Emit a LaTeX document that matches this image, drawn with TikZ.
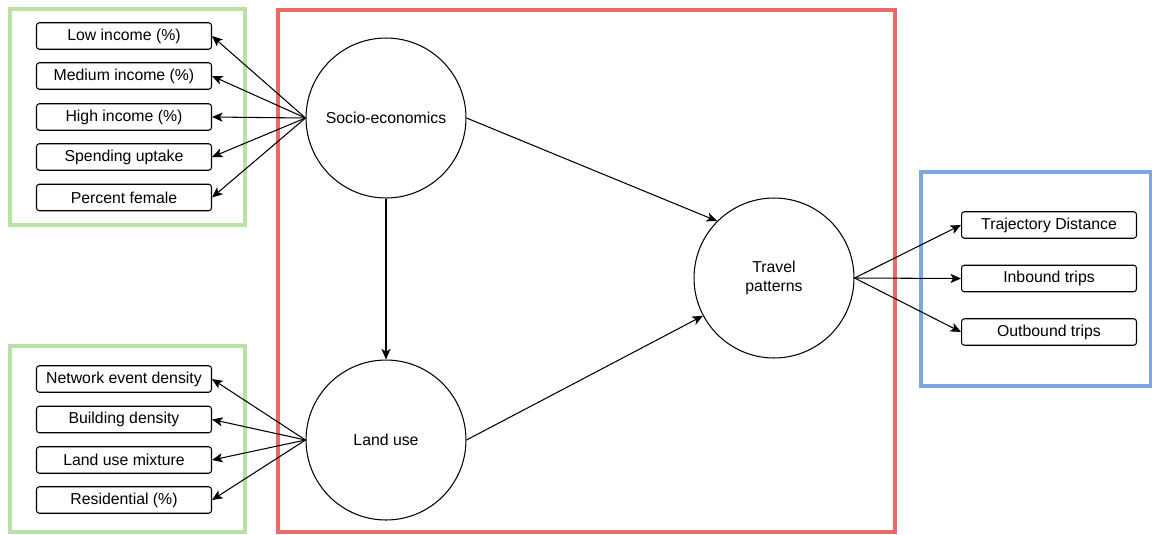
\documentclass[tikz,border=0pt]{standalone}
\usepackage{fontspec}
\setmainfont{Liberation Sans}
\usetikzlibrary{arrows.meta}
\definecolor{grpgreen}{RGB}{185,224,165}
\definecolor{grpred}{RGB}{234,107,102}
\definecolor{grpblue}{RGB}{126,166,224}
\begin{document}
\begin{tikzpicture}[x=0.02cm,y=-0.02cm,
  font=\fontsize{9pt}{10.5pt}\selectfont,
  indicator/.style={draw,line width=0.6pt,rounded corners=1.6pt,minimum width=3.5cm,minimum height=0.53cm,inner sep=0pt},
  construct/.style={draw,circle,line width=0.6pt,minimum size=3.2cm,inner sep=0pt,align=center},
  group/.style={line width=1.8pt},
  link/.style={line width=0.6pt,-{Stealth[length=6pt,width=5.2pt,inset=1.5pt]}}]
\useasboundingbox (0,0) rectangle (1152,534);

% group frames
\draw[group,grpgreen] (10,9) rectangle (245,225);
\draw[group,grpgreen] (10,346) rectangle (245,532);
\draw[group,grpred] (278,10) rectangle (895,532);
\draw[group,grpblue] (921,172) rectangle (1151,386);

% latent constructs
\node[construct] (soc) at (386,118) {Socio-economics};
\node[construct] (land) at (386,440) {Land use};
\node[construct] (travel) at (774,278) {Travel\\patterns};

% socio-economic indicators
\node[indicator] (low) at (124,36) {Low income (\%)};
\node[indicator] (med) at (124,76) {Medium income (\%)};
\node[indicator] (high) at (124,117) {High income (\%)};
\node[indicator] (spend) at (124,157) {Spending uptake};
\node[indicator] (female) at (124,197.5) {Percent female};

% land use indicators
\node[indicator] (netev) at (124,379) {Network event density};
\node[indicator] (build) at (124,419.5) {Building density};
\node[indicator] (mix) at (124,460) {Land use mixture};
\node[indicator] (resid) at (124,500) {Residential (\%)};

% travel pattern indicators
\node[indicator] (traj) at (1049,225) {Trajectory Distance};
\node[indicator] (inb) at (1049,278.5) {Inbound trips};
\node[indicator] (outb) at (1049,332) {Outbound trips};

% loadings
\foreach \t in {low,med,high,spend,female}
  \draw[link] (soc.west) -- (\t.east);
\foreach \t in {netev,build,mix,resid}
  \draw[link] (land.west) -- (\t.east);
\foreach \t in {traj,inb,outb}
  \draw[link] (travel.east) -- (\t.west);

% structural paths
\draw[link] (soc.south) -- (land.north);
\draw[link] (soc.east) -- (travel.north west);
\draw[link] (land.east) -- (travel.208);
\end{tikzpicture}
\end{document}
